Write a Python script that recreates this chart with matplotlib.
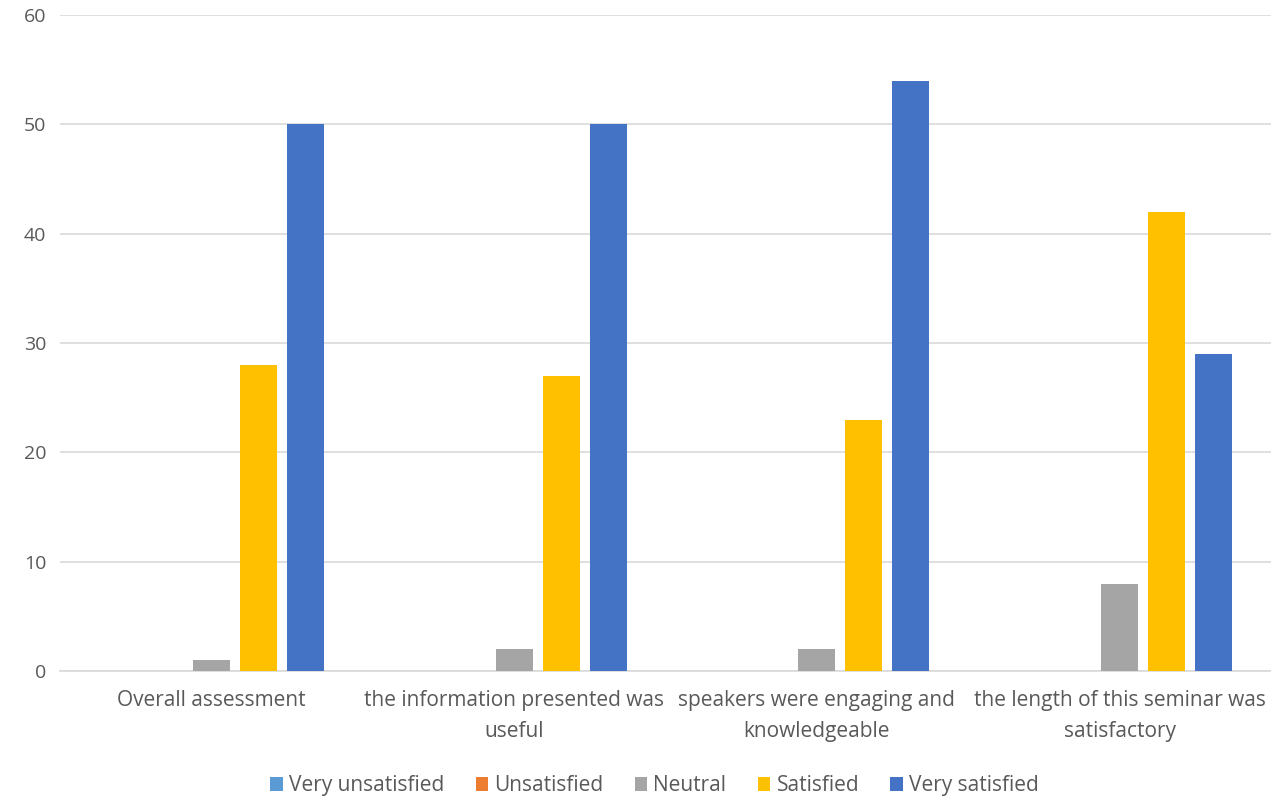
import matplotlib.pyplot as plt
import numpy as np

plt.rcParams['font.family'] = ['Open Sans', 'DejaVu Sans']

categories = ["Overall assessment",
              "the information presented was\nuseful",
              "speakers were engaging and\nknowledgeable",
              "the length of this seminar was\nsatisfactory"]
series = ["Very unsatisfied", "Unsatisfied", "Neutral", "Satisfied", "Very satisfied"]
values = [
    [0, 0, 0, 0],
    [0, 0, 0, 0],
    [1, 2, 2, 8],
    [28, 27, 23, 42],
    [50, 50, 54, 29],
]
colors = ["#5B9BD5", "#ED7D31", "#A5A5A5", "#FFC000", "#4472C4"]

fig = plt.figure(figsize=(12.71, 7.96), dpi=100)
ax = fig.add_axes([60 / 1271, 1 - 671 / 796, 1211 / 1271, 656 / 796])

x = np.arange(len(categories))
step = 47 / 303
width = 37 / 303
for i, (name, vals) in enumerate(zip(series, values)):
    ax.bar(x + (i - 2) * step, vals, width, color=colors[i], label=name, zorder=3)

ax.set_xlim(-0.5, len(categories) - 0.5)
ax.set_ylim(0, 60)
ax.set_yticks(range(0, 61, 10))
ax.yaxis.grid(True, color="#D9D9D9", linewidth=1.2, zorder=0)
ax.set_xticks(x)
ax.set_xticklabels(categories, fontsize=15, color="#595959", linespacing=1.6)
ax.tick_params(axis='y', labelsize=14, labelcolor="#595959", length=0, pad=10)
ax.tick_params(axis='x', length=0, pad=14)
for s in ["top", "right", "left"]:
    ax.spines[s].set_visible(False)
ax.spines["bottom"].set_color("#D9D9D9")
ax.spines["bottom"].set_linewidth(1.2)

fig.legend(loc="lower center", bbox_to_anchor=(0.515, -0.024), ncol=5, frameon=False,
           fontsize=15, labelcolor="#595959", handlelength=0.6, handleheight=0.6,
           handletextpad=0.3, columnspacing=1.5)

fig.savefig("out.png", dpi=100)
